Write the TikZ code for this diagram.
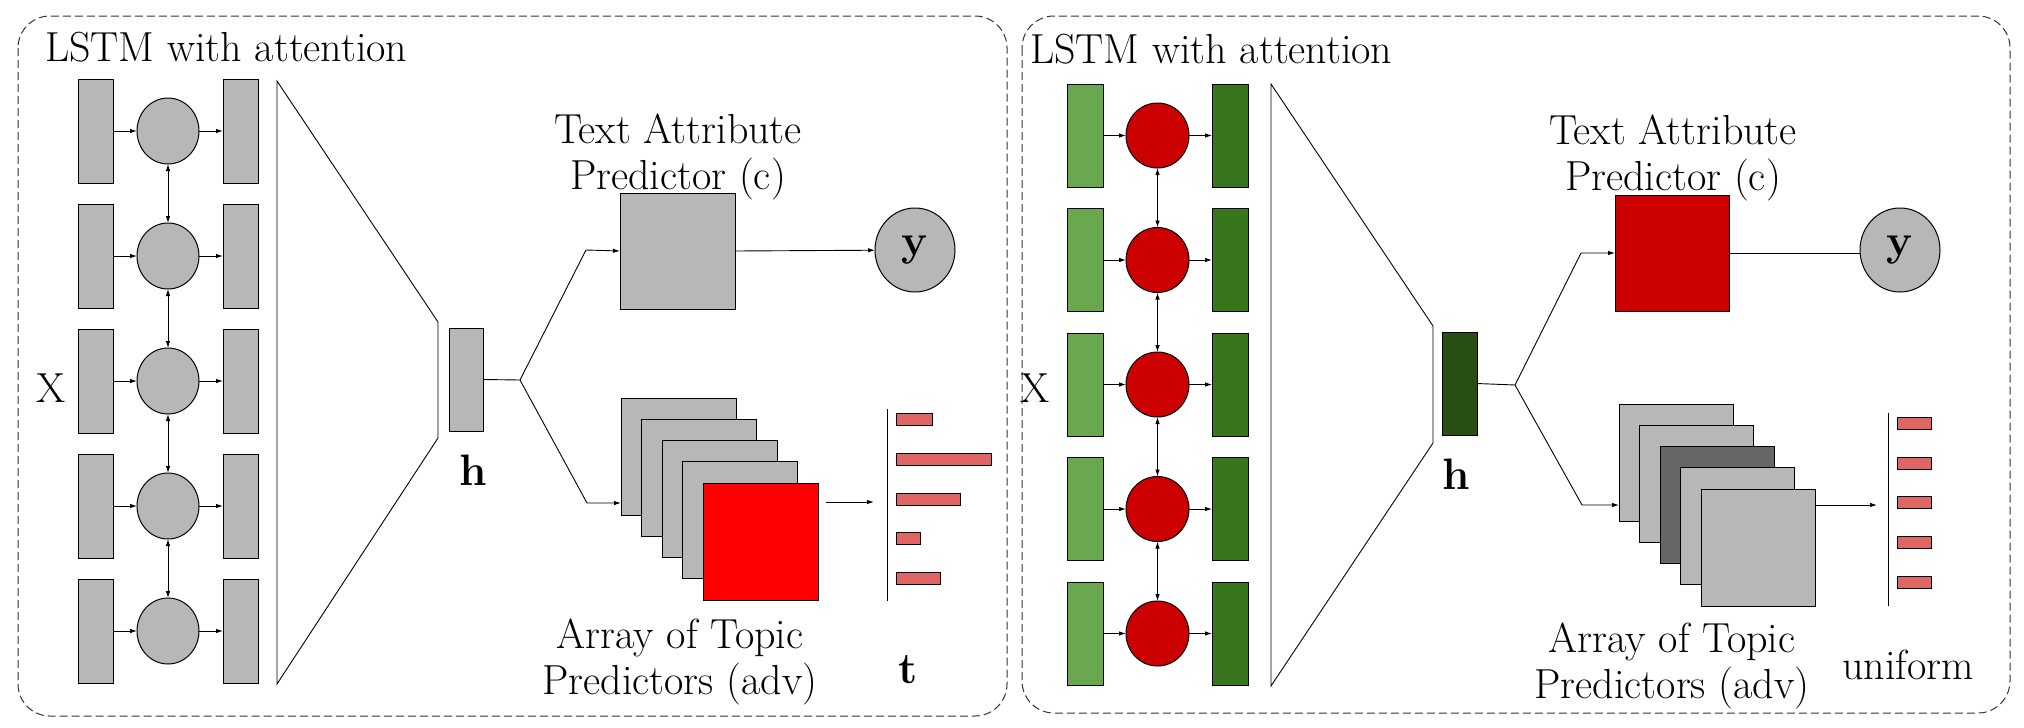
\documentclass[tikz,border=0pt]{standalone}
\usepackage{fontspec}
\usetikzlibrary{arrows.meta,shapes.geometric}
\definecolor{lgray}{HTML}{B7B7B7}
\definecolor{dgray}{HTML}{666666}
\definecolor{lgreen}{HTML}{6AA84F}
\definecolor{dgreen}{HTML}{38761D}
\definecolor{hgreen}{HTML}{274E13}
\definecolor{dred}{HTML}{CC0000}
\definecolor{bred}{HTML}{FF0000}
\definecolor{barred}{HTML}{E06666}
\tikzset{
  box/.style={draw=black, line width=1pt, inner sep=0pt, outer sep=0pt},
  cell/.style={box, ellipse, minimum width=63, minimum height=65},
  col/.style={box, minimum width=35, minimum height=104},
  pred/.style={box, minimum width=115, minimum height=117},
  bar/.style={box, fill=barred, minimum height=12, anchor=west},
  ycirc/.style={box, ellipse, fill=lgray, minimum width=80, minimum height=84,
    font=\fontsize{44}{48}\selectfont\bfseries},
  ln/.style={line width=0.9pt},
  arr/.style={ln, -{Latex[length=7pt,width=4.5pt]}},
  darr/.style={ln, {Latex[length=7pt,width=4.5pt]}-{Latex[length=7pt,width=4.5pt]}},
  border/.style={line width=1pt, draw=black!80, dash pattern=on 8pt off 4pt, rounded corners=32pt},
  lbl/.style={font=\fontsize{42}{48}\selectfont, inner sep=0pt, anchor=base},
  bl/.style={font=\fontsize{44}{48}\selectfont\bfseries, inner sep=0pt, anchor=base}
}
\begin{document}
\begin{tikzpicture}[x=1pt,y=-1pt]
\useasboundingbox (0,0) rectangle (2024,728);
% ================= LEFT PANEL =================
\draw[border] (18,16) rectangle (1007,716);
\node[lbl, anchor=base west] (Ltitle) at (45,61) {LSTM with attention};
\foreach \k in {0,...,4}{
  \node[col, fill=lgray] (Li\k) at (95.5,{131+125*\k}) {};
  \node[cell, fill=lgray, minimum width=62, minimum height=66] (Lc\k) at (168,{131+125*\k}) {};
  \node[col, fill=lgray] (Lo\k) at (240.5,{131+125*\k}) {};
  \draw[arr] (Li\k) -- (Lc\k);
  \draw[arr] (Lc\k) -- (Lo\k);
}
\foreach \k/\n in {0/1,1/2,2/3,3/4}{\draw[darr] (Lc\k) -- (Lc\n);}
\node[lbl, anchor=center] (LX) at (51,388) {X};
\draw[ln] (277,81) -- (438,322) -- (438,438) -- (277,684) -- cycle;
\node[box, fill=lgray, minimum width=34, minimum height=103] (Lh) at (466,379.5) {};
\node[bl] (LhT) at (473,485) {h};
\coordinate (Lj) at (520,380);
\coordinate (Lb1) at (586,250);
\coordinate (Lb2) at (587,503);
\node[box, fill=lgray, minimum width=115, minimum height=116] (Ltap) at (677.5,251) {};
\node[lbl] (Lt1) at (678,143) {Text Attribute};
\node[lbl] (Lt2) at (678,189) {Predictor (c)};
\node[ycirc] (Ly) at (915,250) {y};
\foreach \k in {0,...,3}{
  \node[pred, fill=lgray] (Ls\k) at ({678.5+20.5*\k},{456.5+21.25*\k}) {};
}
\node[pred, fill=bred] (Ls4) at (760.5,541.5) {};
\node[lbl] (La1) at (680,648) {Array of Topic};
\node[lbl] (La2) at (680,694) {Predictors (adv)};
\draw[ln] (Lh.east) -- (Lj);
\draw[arr] (Lj) -- (Lb1) -- (Ltap.west);
\draw[arr] (Lj) -- (Lb2) -- (Lb2 -| Ls0.west);
\draw[arr] (Ltap.east) -- (Ly);
\coordinate (Lq1) at (826,502);
\coordinate (Lq2) at (874,502);
\draw[arr] (Lq1) -- (Lq2);
\coordinate (Lv1) at (887,409);
\coordinate (Lv2) at (887,601);
\draw[ln] (Lv1) -- (Lv2);
\foreach \yy/\w [count=\i] in {419/36,459/95,499/64,538/24,578/44}{
  \node[bar, minimum width=\w] (Lbar\i) at (896,\yy) {};
}
\node[bl] (LtT) at (908,683) {t};
% ================= RIGHT PANEL =================
\draw[border] (1022,16) rectangle (2010,713);
\node[lbl, anchor=base west] (Rtitle) at (1030,63) {LSTM with attention};
\foreach \k in {0,...,4}{
  \node[col, fill=lgreen, minimum width=36, minimum height=103] (Ri\k) at (1085,{135.5+124.5*\k}) {};
  \node[cell, fill=dred] (Rc\k) at (1157.5,{135.5+124.5*\k}) {};
  \node[col, fill=dgreen, minimum width=36, minimum height=103] (Ro\k) at (1230,{135.5+124.5*\k}) {};
  \draw[arr] (Ri\k) -- (Rc\k);
  \draw[arr] (Rc\k) -- (Ro\k);
}
\foreach \k/\n in {0/1,1/2,2/3,3/4}{\draw[darr] (Rc\k) -- (Rc\n);}
\node[lbl, anchor=center] (RX) at (1035,388) {X};
\draw[ln] (1271,84) -- (1433,326) -- (1433,443) -- (1271,686) -- cycle;
\node[box, fill=hgreen, minimum width=35, minimum height=103] (Rh) at (1459.5,383.5) {};
\node[bl] (RhT) at (1456,489) {h};
\coordinate (Rj) at (1515,385);
\coordinate (Rb1) at (1581,253);
\coordinate (Rb2) at (1582,505);
\node[box, fill=dred, minimum width=114, minimum height=116] (Rtap) at (1672,253) {};
\node[lbl] (Rt1) at (1673,144) {Text Attribute};
\node[lbl] (Rt2) at (1673,190) {Predictor (c)};
\node[ycirc] (Ry) at (1900,250) {y};
\node[pred, fill=lgray, minimum width=114] (Rs0) at (1676,462.5) {};
\node[pred, fill=lgray, minimum width=114] (Rs1) at (1696.5,483.75) {};
\node[pred, fill=dgray, minimum width=114] (Rs2) at (1717,505) {};
\node[pred, fill=lgray, minimum width=114] (Rs3) at (1737.5,526.25) {};
\node[pred, fill=lgray, minimum width=114] (Rs4) at (1758,547.5) {};
\node[lbl] (Ra1) at (1672,652) {Array of Topic};
\node[lbl] (Ra2) at (1672,698) {Predictors (adv)};
\draw[ln] (Rh.east) -- (Rj);
\draw[arr] (Rj) -- (Rb1) -- (Rtap.west |- Rb1);
\draw[arr] (Rj) -- (Rb2) -- (Rb2 -| Rs0.west);
\draw[ln] (Rtap.east |- Rb1) -- (Ry.west |- Rb1);
\coordinate (Rq2) at (1877,505);
\draw[arr] (Rs4.east |- Rq2) -- (Rq2);
\coordinate (Rv1) at (1888,413);
\coordinate (Rv2) at (1888,606);
\draw[ln] (Rv1) -- (Rv2);
\foreach \yy [count=\i] in {423,463,502,542,582}{
  \node[bar, minimum width=34] (Rbar\i) at (1897,\yy) {};
}
\node[lbl] (Ru) at (1908,679) {uniform};
\end{tikzpicture}
\end{document}
